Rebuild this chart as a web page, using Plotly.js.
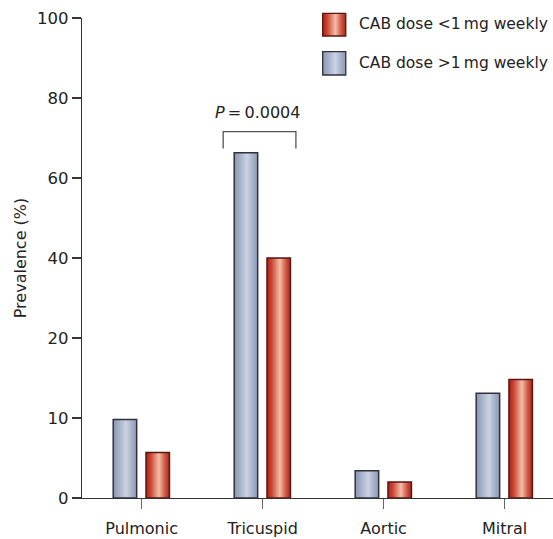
<!DOCTYPE html>
<html>
<head>
<meta charset="utf-8">
<script src="https://cdn.plot.ly/plotly-3.0.1.min.js"></script>
<style>html,body{margin:0;padding:0;background:#fff;}#chart{width:553px;height:539px;}</style>
</head>
<body>
<div id="chart"></div>
<script>
// ---- data ----
const categories = ['Pulmonic', 'Tricuspid', 'Aortic', 'Mitral'];
const doseHigh = [9.8, 66.3, 3.4, 13.1];   // CAB dose >1 mg weekly (blue)
const doseLow = [5.7, 40.0, 2.0, 14.8];    // CAB dose <1 mg weekly (red)
const yTickValues = [0, 10, 20, 40, 60, 80, 100];
const seriesNames = ['CAB dose <1\u2009mg weekly', 'CAB dose >1\u2009mg weekly'];
const pText = '<i>P</i>\u2009=\u20090.0004';

// broken (piecewise) y scale of the original: 0-20 in steps of 10, then 20-100 in steps of 20
function toAxis(v) { return v <= 20 ? v / 10 : 2 + (v - 20) / 20; }

const xIdx = categories.map((c, i) => i);
const font = 'DejaVu Sans, Verdana, sans-serif';

const traceHigh = {
  type: 'bar', name: seriesNames[1], x: xIdx, y: doseHigh.map(toAxis),
  customdata: doseHigh, hovertemplate: '%{customdata}%<extra></extra>',
  width: 0.194, offset: -0.235,
  marker: { color: '#aab5cb', line: { color: '#2e323c', width: 1.5 } },
  showlegend: false
};
const traceLow = {
  type: 'bar', name: seriesNames[0], x: xIdx, y: doseLow.map(toAxis),
  customdata: doseLow, hovertemplate: '%{customdata}%<extra></extra>',
  width: 0.194, offset: 0.036,
  marker: { color: '#cc5440', line: { color: '#5a1610', width: 1.5 } },
  showlegend: false
};

const layout = {
  width: 553, height: 539,
  margin: { l: 82, r: 0, t: 18, b: 41 },
  paper_bgcolor: '#fff', plot_bgcolor: '#fff',
  font: { family: font, size: 16, color: '#222' },
  xaxis: {
    range: [-0.493, 3.40], tickvals: xIdx, ticktext: categories,
    showgrid: false, zeroline: false, showline: true, linecolor: '#333', linewidth: 1.3,
    ticks: 'outside', ticklen: 10, tickcolor: '#666', tickwidth: 1.3,
    ticklabelstandoff: 5,
    tickfont: { family: font, size: 16, color: '#222' }, fixedrange: true
  },
  yaxis: {
    range: [0, 6], tickvals: yTickValues.map(toAxis), ticktext: yTickValues.map(String),
    showgrid: false, zeroline: false, showline: true, linecolor: '#333', linewidth: 1.3,
    ticks: 'outside', ticklen: 9, tickcolor: '#333', tickwidth: 1.3,
    tickfont: { family: font, size: 16.5, color: '#222' },
    title: { text: 'Prevalence (%)', font: { family: font, size: 16, color: '#222' }, standoff: 6 },
    fixedrange: true
  },
  showlegend: false,
  shapes: [
    // significance bracket over Tricuspid
    { type: 'path', xref: 'x', yref: 'y',
      path: 'M 0.674 4.37 L 0.674 4.58 L 1.275 4.58 L 1.275 4.37',
      line: { color: '#555', width: 1.3 } },
    // custom legend swatches
    { type: 'rect', xref: 'paper', yref: 'paper', x0: 0.511, x1: 0.560, y0: 0.9625, y1: 1.0097,
      fillcolor: '#cc5441', line: { color: '#5a1610', width: 1.3 } },
    { type: 'rect', xref: 'paper', yref: 'paper', x0: 0.511, x1: 0.560, y0: 0.8813, y1: 0.9298,
      fillcolor: '#aab5cc', line: { color: '#2e323c', width: 1.3 } }
  ],
  annotations: [
    { xref: 'x', yref: 'y', x: 0.96, y: 4.825, text: pText, showarrow: false,
      font: { family: font, size: 16, color: '#222' }, xanchor: 'center', yanchor: 'middle' },
    { xref: 'paper', yref: 'paper', x: 0.583, y: 0.9865, text: seriesNames[0], showarrow: false,
      xanchor: 'left', yanchor: 'middle', font: { family: font, size: 15.5, color: '#222' } },
    { xref: 'paper', yref: 'paper', x: 0.583, y: 0.9056, text: seriesNames[1], showarrow: false,
      xanchor: 'left', yanchor: 'middle', font: { family: font, size: 15.5, color: '#222' } }
  ]
};

Plotly.newPlot('chart', [traceHigh, traceLow], layout, { displayModeBar: false, staticPlot: true }).then(function (gd) {
  const NS = 'http://www.w3.org/2000/svg';
  const svg = gd.querySelector('svg.main-svg');
  let defs = svg.querySelector('defs');
  if (!defs) { defs = document.createElementNS(NS, 'defs'); svg.insertBefore(defs, svg.firstChild); }
  function addGrad(id, stops) {
    const g = document.createElementNS(NS, 'linearGradient');
    g.setAttribute('id', id);
    g.setAttribute('x1', '0'); g.setAttribute('y1', '0'); g.setAttribute('x2', '1'); g.setAttribute('y2', '0');
    stops.forEach(function (s) {
      const st = document.createElementNS(NS, 'stop');
      st.setAttribute('offset', s[0]); st.setAttribute('stop-color', s[1]);
      g.appendChild(st);
    });
    defs.appendChild(g);
  }
  addGrad('gBlue', [[0, '#8a97b2'], [0.25, '#a6b1c9'], [0.55, '#cbd3e3'], [0.8, '#a5b0c8'], [1, '#8d9ab5']]);
  addGrad('gRed', [[0, '#a8201a'], [0.2, '#cc4632'], [0.55, '#f3bea8'], [0.8, '#d05a44'], [1, '#a8261c']]);
  const traces = gd.querySelectorAll('.barlayer .trace.bars');
  traces.forEach(function (t, i) {
    t.querySelectorAll('path').forEach(function (p) {
      p.style.fill = i === 0 ? 'url(#gBlue)' : 'url(#gRed)';
    });
  });
  gd.querySelectorAll('.shapelayer path').forEach(function (p) {
    const f = p.style.fill;
    if (f === 'rgb(204, 84, 65)') p.style.fill = 'url(#gRed)';
    if (f === 'rgb(170, 181, 204)') p.style.fill = 'url(#gBlue)';
  });
});
</script>
</body>
</html>
